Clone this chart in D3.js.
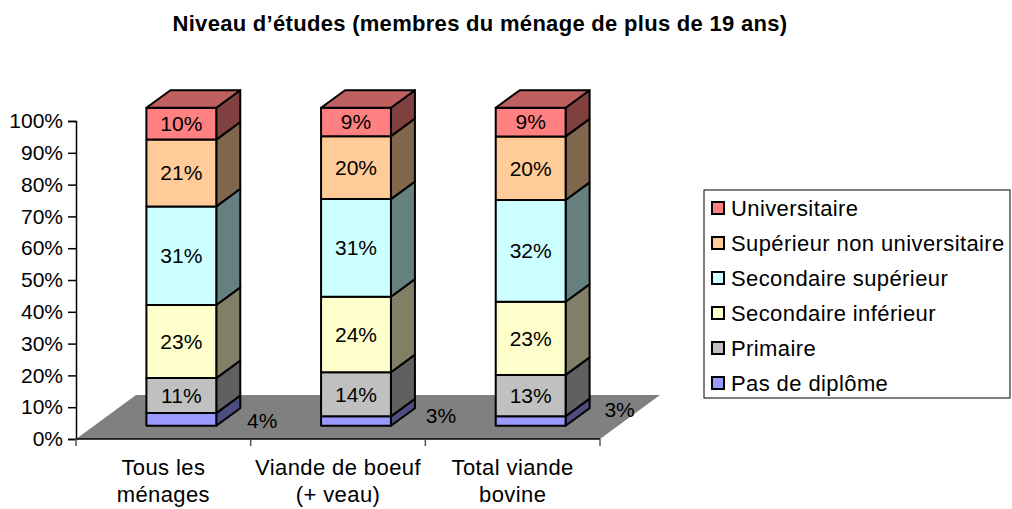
<!DOCTYPE html>
<html>
<head>
	<meta charset="utf-8">
	<title>Niveau d'études</title>
</head>
<body>

<svg class="chart"></svg>

<style type="text/css">
	body {
		margin: 0;
		background: #fff;
	}

	.chart {
		width: 1012px;
		height: 509px;
		display: block;
		font-family: "Liberation Sans", Arial, sans-serif;
	}

	.chart text {
		fill: #000;
		font-size: 21px;
	}

	.chart .title {
		font-weight: bold;
		font-size: 22px;
		letter-spacing: 0.3px;
	}

	.chart .words {
		font-size: 22px;
		letter-spacing: 0.4px;
	}

	.chart .face {
		stroke: #000;
		stroke-width: 2px;
		stroke-linejoin: round;
	}
</style>

<script src="https://d3js.org/d3.v7.min.js"></script>
<script type="text/javascript">
	var title = 'Niveau d\u2019études (membres du ménage de plus de 19 ans)'

	var categories = ['Tous les ménages', 'Viande de boeuf (+ veau)', 'Total viande bovine']
	var categoryLines = [['Tous les', 'ménages'], ['Viande de boeuf', '(+ veau)'], ['Total viande', 'bovine']]

	// bottom to top
	var seriesNames = ['Pas de diplôme', 'Primaire', 'Secondaire inférieur', 'Secondaire supérieur', 'Supérieur non universitaire', 'Universitaire']
	var seriesColors = ['#9999ff', '#c0c0c0', '#ffffcc', '#ccffff', '#ffcc99', '#ff8080']

	var tousLesMenages = [4, 11, 23, 31, 21, 10]
	var viandeBoeuf = [3, 14, 24, 31, 20, 9]
	var totalViandeBovine = [3, 13, 23, 32, 20, 9]

	var yTicks = [0, 0.1, 0.2, 0.3, 0.4, 0.5, 0.6, 0.7, 0.8, 0.9, 1]

	;(function() {
		'use strict'

		var rows = [tousLesMenages, viandeBoeuf, totalViandeBovine].map(function(vals, i) {
			var row = { category: categories[i] }
			seriesNames.forEach(function(s, j) { row[s] = vals[j] })
			return row
		})

		var stacked = d3.stack()
			.keys(seriesNames)
			.offset(d3.stackOffsetExpand)(rows)

		var svg = d3.select('.chart')
			.attr('viewBox', [0, 0, 1012, 509])

		var x = d3.scaleBand()
			.domain(categories)
			.range([76, 600])

		var y = d3.scaleLinear()
			.domain([0, 1])
			.range([439, 121])

		// depth of the floor, and of the bars within it
		var depth = [60, -44]
		var front = 0.3, thick = 0.4
		var bw = x.bandwidth() * 0.4
		var fx = depth[0] * front, fy = depth[1] * front
		var dx = depth[0] * thick, dy = depth[1] * thick

		// title
		svg.append('text')
			.attr('class', 'title')
			.attr('x', 480)
			.attr('y', 31)
			.attr('text-anchor', 'middle')
			.text(title)

		// floor
		var x0 = x.range()[0], x1 = x.range()[1], y0 = y(0)
		svg.append('path')
			.attr('fill', '#808080')
			.attr('d', 'M' + [x0, y0] + 'L' + [x1, y0] + 'L' + [x1 + depth[0], y0 + depth[1]] +
				'L' + [x0 + depth[0], y0 + depth[1]] + 'Z')

		// y axis
		var yAxis = svg.append('g')
			.attr('transform', 'translate(' + x0 + ',0)')
			.call(d3.axisLeft(y).tickValues(yTicks).tickFormat(d3.format('.0%')).tickSize(8).tickPadding(5))
		yAxis.attr('font-family', null).attr('font-size', null)
		yAxis.select('.domain').attr('stroke', '#000').attr('stroke-width', 1.5)
		yAxis.selectAll('.tick line').attr('stroke', '#000').attr('stroke-width', 1.5)

		// x axis
		var xAxis = svg.append('g')
		xAxis.append('line')
			.attr('x1', x0).attr('x2', x1).attr('y1', y0).attr('y2', y0)
			.attr('stroke', '#000').attr('stroke-width', 1.5)
		xAxis.selectAll('.xtick')
			.data(categories.concat([null]))
			.enter()
			.append('line')
			.attr('x1', function(d) { return d === null ? x1 : x(d) })
			.attr('x2', function(d) { return d === null ? x1 : x(d) })
			.attr('y1', y0).attr('y2', y0 + 7)
			.attr('stroke', '#555').attr('stroke-width', 1.5)

		xAxis.selectAll('.xlabel')
			.data(categories)
			.enter()
			.append('text')
			.attr('class', 'words')
			.attr('text-anchor', 'middle')
			.attr('x', function(d) { return x(d) + x.bandwidth() / 2 })
			.attr('y', 475)
			.selectAll('tspan')
			.data(function(d, i) { return categoryLines[i] })
			.enter()
			.append('tspan')
			.attr('x', function() { return +this.parentNode.getAttribute('x') })
			.attr('dy', function(d, i) { return i === 0 ? 0 : 27 })
			.text(function(d) { return d })

		function shade(c, k) {
			var r = d3.rgb(c)
			return d3.rgb(r.r * k, r.g * k, r.b * k).formatHex()
		}

		function poly(pts) {
			return 'M' + pts.map(function(p) { return p.join(',') }).join('L') + 'Z'
		}

		// bars, left to right, bottom to top
		categories.forEach(function(cat, ci) {
			var left = x(cat) + (x.bandwidth() - bw) / 2 + fx
			var right = left + bw
			var g = svg.append('g')

			stacked.forEach(function(layer, si) {
				var d = layer[ci]
				var yb = y(d[0]) + fy, yt = y(d[1]) + fy
				var col = seriesColors[si]

				g.append('path')
					.attr('class', 'face')
					.attr('fill', shade(col, 0.5))
					.attr('d', poly([[right, yb], [right + dx, yb + dy], [right + dx, yt + dy], [right, yt]]))

				g.append('path')
					.attr('class', 'face')
					.attr('fill', col)
					.attr('d', poly([[left, yb], [right, yb], [right, yt], [left, yt]]))

				if (si === stacked.length - 1) {
					g.append('path')
						.attr('class', 'face')
						.attr('fill', shade(col, 0.75))
						.attr('d', poly([[left, yt], [right, yt], [right + dx, yt + dy], [left + dx, yt + dy]]))
				}

				var v = rows[ci][layer.key]
				if (si === 0) {
					// first segment is labelled on the floor, beside the bar
					svg.append('text')
						.attr('text-anchor', 'middle')
						.attr('x', right + dx + 22 + 4 * ci)
						.attr('y', (yb + yt) / 2 - 6 * ci + 1)
						.attr('dy', '0.35em')
						.text(v + '%')
				} else {
					g.append('text')
						.attr('text-anchor', 'middle')
						.attr('x', (left + right) / 2)
						.attr('y', (yb + yt) / 2)
						.attr('dy', '0.35em')
						.text(v + '%')
				}
			})
		})

		// legend
		var legend = svg.append('g')
			.attr('transform', 'translate(704,190)')
		legend.append('rect')
			.attr('width', 306).attr('height', 208)
			.attr('fill', '#fff').attr('stroke', '#000').attr('stroke-width', 1)

		var items = legend.selectAll('.item')
			.data(seriesNames.slice().reverse())
			.enter()
			.append('g')
			.attr('transform', function(d, i) { return 'translate(0,' + (18 + i * 35) + ')' })

		items.append('rect')
			.attr('x', 8).attr('y', -6)
			.attr('width', 12).attr('height', 12)
			.attr('fill', function(d) { return seriesColors[seriesNames.indexOf(d)] })
			.attr('stroke', '#000').attr('stroke-width', 2)

		items.append('text')
			.attr('class', 'words')
			.attr('x', 27)
			.attr('dy', '0.35em')
			.text(function(d) { return d })
	})()
</script>
</body>
</html>
